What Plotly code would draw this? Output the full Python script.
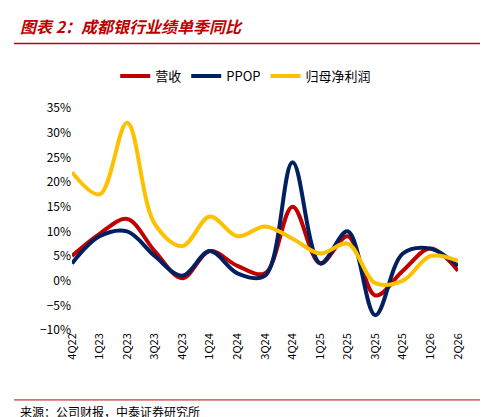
import plotly.graph_objects as go

quarters = ["4Q22","1Q23","2Q23","3Q23","4Q23","1Q24","2Q24","3Q24","4Q24","1Q25","2Q25","3Q25","4Q25","1Q26","2Q26"]
revenue = [5, 9.5, 12.5, 6, 0.5, 6, 3, 1.5, 15, 3.5, 9, -3, 2, 6.5, 2]
ppop = [3.5, 9, 10, 5, 1, 6, 1.5, 1, 24, 3.5, 10, -7, 5.5, 6.5, 3]
net_profit = [22, 17.5, 32, 11.5, 7, 13, 9, 11, 8.5, 5.5, 7.5, -0.5, 0, 5, 4]

fig = go.Figure()
for name, vals, col in [("营收", revenue, "#C00000"), ("PPOP", ppop, "#002060"), ("归母净利润", net_profit, "#FFC000")]:
    fig.add_trace(go.Scatter(x=quarters, y=[v/100 for v in vals], name=name, mode="lines",
                             line=dict(color=col, width=4, shape="spline", smoothing=1.0)))

fig.update_layout(
    width=488, height=417, plot_bgcolor="white", paper_bgcolor="white",
    margin=dict(l=64, r=38, t=100, b=95),
    font=dict(family="Noto Sans CJK SC", size=12, color="#000"),
    legend=dict(orientation="h", x=0.45, xanchor="center", y=1.144, yanchor="middle", font=dict(size=13)),
    xaxis=dict(tickangle=-90, showgrid=False, showline=False, ticks="", tickfont=dict(size=11)),
    yaxis=dict(range=[-0.1, 0.35], dtick=0.05, tickformat=".0%", showgrid=False, zeroline=False,
               showline=False, ticks="", tickfont=dict(size=12)),
    annotations=[
        dict(text="<b><i>图表 2：成都银行业绩单季同比</i></b>", xref="paper", yref="paper", x=-0.14, y=1.0,
             xanchor="left", yanchor="middle", yshift=82, showarrow=False, font=dict(size=16, color="#C00000")),
        dict(text="来源：公司财报，中泰证券研究所", xref="paper", yref="paper", x=-0.14, y=0,
             xanchor="left", yanchor="middle", yshift=-81, showarrow=False, font=dict(size=12, color="#000")),
    ],
    shapes=[
        dict(type="line", xref="paper", yref="paper", x0=-0.15, x1=1.1, y0=1.29, y1=1.29,
             line=dict(color="#C00000", width=1.5)),
        dict(type="line", xref="paper", yref="paper", x0=-0.15, x1=1.1, y0=-0.315, y1=-0.315,
             line=dict(color="#C00000", width=1)),
    ],
)
fig.write_html("out.html")
